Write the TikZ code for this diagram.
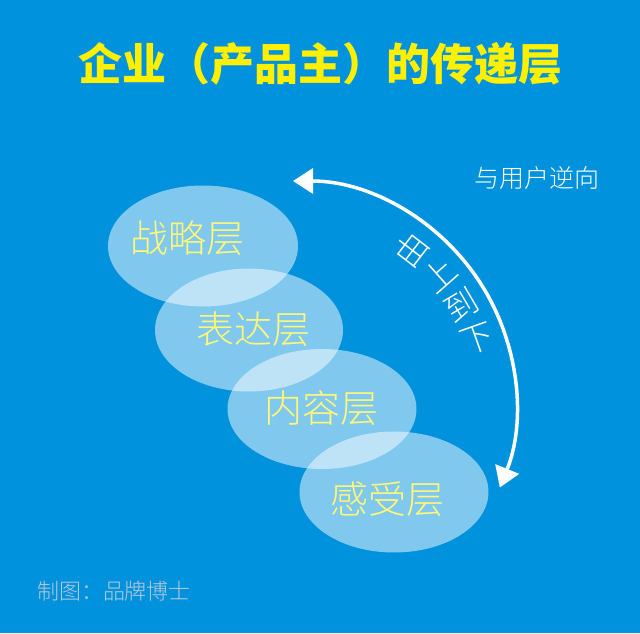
\documentclass[tikz,border=0pt]{standalone}
\usepackage{fontspec}
\newfontfamily\cjk{Noto Sans CJK SC}
\IfFontExistsTF{Noto Sans CJK SC Light}{\newfontfamily\cjklight{Noto Sans CJK SC Light}}{\newfontfamily\cjklight{Noto Sans CJK SC}}
\usetikzlibrary{shapes.geometric,arrows.meta,calc}
\definecolor{bgblue}{RGB}{0,146,221}
\definecolor{titleyellow}{RGB}{255,240,0}
\definecolor{layeryellow}{RGB}{255,247,120}
\definecolor{creditgray}{RGB}{185,200,215}
\tikzset{
  layer/.style={ellipse,fill=white,fill opacity=0.5,draw=none,inner sep=0pt},
  layertext/.style={text=layeryellow,font=\cjklight\fontsize{38}{40}\selectfont,inner sep=0pt,anchor=center},
  arclabel/.style={text=white,font=\cjklight\fontsize{33}{35}\selectfont,inner sep=0pt,anchor=center},
  bigarrow/.style={draw=white,line width=3.5pt,{Triangle[length=20pt,width=25pt]}-{Triangle[length=20pt,width=25pt]}}
}
\begin{document}
\begin{tikzpicture}[x=1pt,y=1pt]
\useasboundingbox (0,0) rectangle (640,633);
\fill[bgblue] (0,0) rectangle (640,633);
\node[text=titleyellow,font=\cjk\bfseries\fontsize{44}{48}\selectfont,inner sep=0pt] (title) at (320,569) {企业（产品主）的传递层};
\node[layer,minimum width=190pt,minimum height=121pt] (e1) at (203,387) {};
\node[layer,minimum width=188pt,minimum height=123pt] (e2) at (249,303) {};
\node[layer,minimum width=189pt,minimum height=120pt] (e3) at (322,224) {};
\node[layer,minimum width=189pt,minimum height=121pt] (e4) at (394,141) {};
\node[layertext] (t1) at (187,395) {战略层};
\node[layertext] (t2) at (253,304) {表达层};
\node[layertext] (t3) at (321,225) {内容层};
\node[layertext] (t4) at (387,134) {感受层};
\coordinate (o) at (293,229);
\coordinate (arcstart) at (293,452);
\draw[bigarrow] (arcstart) arc[start angle=90,end angle=-22,radius=223];
\node[arclabel,rotate=52.5] (l1) at ($(o)+(52.5:195)$) {由};
\node[arclabel,rotate=41.5] (l2) at ($(o)+(41.5:195)$) {上};
\node[arclabel,rotate=30.5] (l3) at ($(o)+(30.5:195)$) {到};
\node[arclabel,rotate=19.5] (l4) at ($(o)+(19.5:195)$) {下};
\node[text=white,font=\cjklight\fontsize{25}{28}\selectfont,inner sep=0pt] (rev) at (537,455) {与用户逆向};
\node[text=creditgray,font=\cjklight\fontsize{22}{24}\selectfont,inner sep=0pt] (credit) at (114,42) {制图：品牌博士};
\end{tikzpicture}
\end{document}
